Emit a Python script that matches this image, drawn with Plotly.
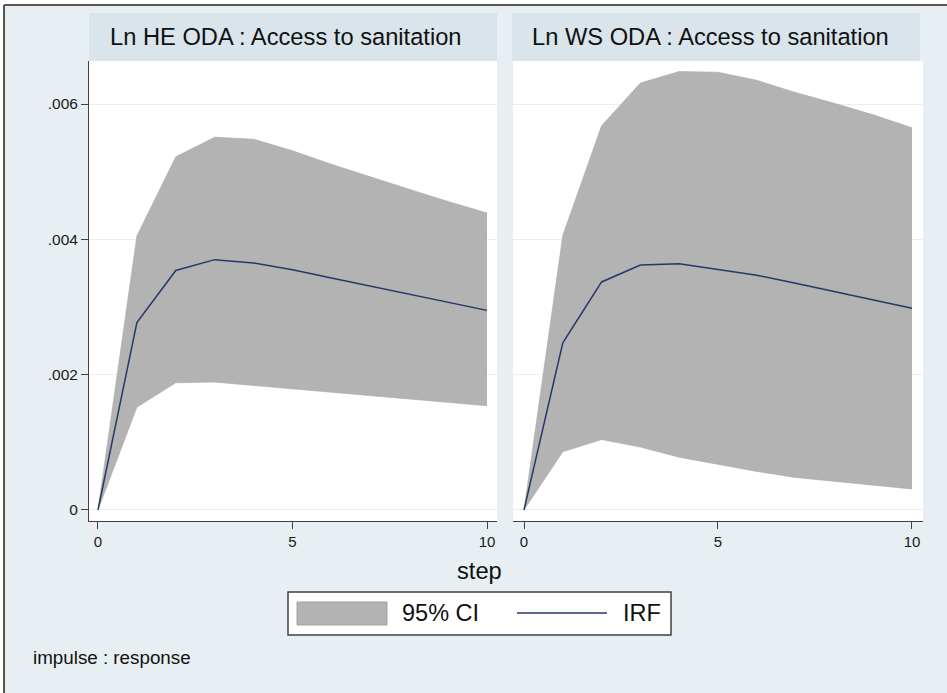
import plotly.graph_objects as go

steps = [0, 1, 2, 3, 4, 5, 6, 7, 8, 9, 10]

# Panel 1: Ln HE ODA : Access to sanitation
he_irf   = [0, 0.00277, 0.00354, 0.00370, 0.00365, 0.00355, 0.00343, 0.00331, 0.00318, 0.00306, 0.00295]
he_upper = [0, 0.00405, 0.00522, 0.00551, 0.00548, 0.00531, 0.00511, 0.00492, 0.00474, 0.00456, 0.00439]
he_lower = [0, 0.00152, 0.00188, 0.00189, 0.00184, 0.00179, 0.00174, 0.00169, 0.00164, 0.00159, 0.00154]

# Panel 2: Ln WS ODA : Access to sanitation
ws_irf   = [0, 0.00247, 0.00337, 0.00362, 0.00364, 0.00356, 0.00347, 0.00335, 0.00323, 0.00310, 0.00298]
ws_upper = [0, 0.00406, 0.00568, 0.00631, 0.00648, 0.00647, 0.00635, 0.00617, 0.00601, 0.00584, 0.00565]
ws_lower = [0, 0.00086, 0.00104, 0.00093, 0.00078, 0.00067, 0.00057, 0.00048, 0.00042, 0.00036, 0.00031]

titles = ["Ln HE ODA : Access to sanitation", "Ln WS ODA : Access to sanitation"]
ytick_vals = [0, 0.002, 0.004, 0.006]
ytick_text = ["0", ".002", ".004", ".006"]
xtick_vals = [0, 5, 10]

BG = "#e8eff2"
HEADER = "#d9e5eb"
GRID = "#e6eff2"
CI_FILL = "#b3b3b3"
IRF_COL = "#26386a"
AX = "#404040"
FONT = "Liberation Sans, Arial, sans-serif"

fig = go.Figure()

panels = [(he_lower, he_upper, he_irf, "x", "y"), (ws_lower, ws_upper, ws_irf, "x2", "y2")]
for lo, up, irf, xa, ya in panels:
    fig.add_trace(go.Scatter(x=steps, y=lo, mode="lines", line=dict(width=0.6, color="#a8a8a8"),
                             xaxis=xa, yaxis=ya, showlegend=False, hoverinfo="skip"))
    fig.add_trace(go.Scatter(x=steps, y=up, mode="lines", fill="tonexty", fillcolor=CI_FILL,
                             line=dict(width=0.6, color="#a8a8a8"),
                             xaxis=xa, yaxis=ya, showlegend=False, name="95% CI"))
    fig.add_trace(go.Scatter(x=steps, y=irf, mode="lines", line=dict(width=1.5, color=IRF_COL),
                             xaxis=xa, yaxis=ya, showlegend=False, name="IRF"))

yrange = [-0.000163, 0.006636]
common_x = dict(tickvals=xtick_vals, ticks="outside", ticklen=7, tickcolor=AX, showline=True,
                linecolor=AX, linewidth=1, showgrid=False, zeroline=False,
                tickfont=dict(size=15, color="#1a1a1a", family=FONT))
fig.update_layout(
    xaxis=dict(domain=[0, 0.4892], range=[-0.231, 10.257], anchor="y", **common_x),
    xaxis2=dict(domain=[0.5084, 1.0], range=[-0.2835, 10.284], anchor="y2", **common_x),
    yaxis=dict(domain=[0, 1], range=yrange, tickvals=ytick_vals, ticktext=ytick_text,
               ticks="outside", ticklen=7, tickcolor=AX, showline=True, linecolor=AX, linewidth=1,
               showgrid=True, gridcolor=GRID, gridwidth=1, zeroline=False, anchor="x",
               tickfont=dict(size=15.5, color="#1a1a1a", family=FONT)),
    yaxis2=dict(domain=[0, 1], range=yrange, tickvals=ytick_vals, showticklabels=False,
                ticks="", showline=False, showgrid=True, gridcolor=GRID, gridwidth=1,
                zeroline=False, anchor="x2"),
)

def px_x(p):
    return (p - 89) / 834.0

def px_y(p):
    return (521 - p) / 460.0

shapes = []
# white strips outside the outer border
shapes.append(dict(type="rect", xref="paper", yref="paper", x0=px_x(-20), x1=px_x(960),
                   y0=px_y(5), y1=px_y(-20), fillcolor="white", line=dict(width=0), layer="below"))
shapes.append(dict(type="rect", xref="paper", yref="paper", x0=px_x(-20), x1=px_x(4),
                   y0=px_y(720), y1=px_y(-20), fillcolor="white", line=dict(width=0), layer="below"))
# outer border lines (top and left)
shapes.append(dict(type="line", xref="paper", yref="paper", x0=px_x(4), x1=px_x(960),
                   y0=px_y(5), y1=px_y(5), line=dict(color="#555555", width=2)))
shapes.append(dict(type="line", xref="paper", yref="paper", x0=px_x(4), x1=px_x(4),
                   y0=px_y(5), y1=px_y(720), line=dict(color="#555555", width=2)))
# header strips
for hx0, hx1 in [(89, 497), (512, 920)]:
    shapes.append(dict(type="rect", xref="paper", yref="paper", x0=px_x(hx0), x1=px_x(hx1),
                       y0=px_y(61), y1=px_y(13), fillcolor=HEADER, line=dict(width=0), layer="below"))
# legend box
shapes.append(dict(type="rect", xref="paper", yref="paper", x0=px_x(288), x1=px_x(671),
                   y0=px_y(635), y1=px_y(592), fillcolor="white", line=dict(color=AX, width=1.5)))
shapes.append(dict(type="rect", xref="paper", yref="paper", x0=px_x(297), x1=px_x(387),
                   y0=px_y(625), y1=px_y(602), fillcolor=CI_FILL, line=dict(color="#a0a0a0", width=1)))
shapes.append(dict(type="line", xref="paper", yref="paper", x0=px_x(517), x1=px_x(607),
                   y0=px_y(613), y1=px_y(613), line=dict(color=IRF_COL, width=1.5)))

annotations = []
for t, tx in zip(titles, [108, 530]):
    annotations.append(dict(text=t, xref="paper", yref="paper", x=px_x(tx), y=px_y(37),
                            xanchor="left", yanchor="middle", showarrow=False,
                            font=dict(size=23.7, color="#111111", family=FONT)))
annotations.append(dict(text="step", xref="paper", yref="paper", x=px_x(479), y=px_y(571),
                        xanchor="center", yanchor="middle", showarrow=False,
                        font=dict(size=23.7, color="#111111", family=FONT)))
annotations.append(dict(text="95% CI", xref="paper", yref="paper", x=px_x(400), y=px_y(613),
                        xanchor="left", yanchor="middle", showarrow=False,
                        font=dict(size=23.5, color="#111111", family=FONT)))
annotations.append(dict(text="IRF", xref="paper", yref="paper", x=px_x(621), y=px_y(613),
                        xanchor="left", yanchor="middle", showarrow=False,
                        font=dict(size=23.5, color="#111111", family=FONT)))
annotations.append(dict(text="impulse : response", xref="paper", yref="paper", x=px_x(31), y=px_y(657),
                        xanchor="left", yanchor="middle", showarrow=False,
                        font=dict(size=18.8, color="#111111", family=FONT)))

fig.update_layout(
    width=947, height=693,
    margin=dict(l=89, r=24, t=61, b=172),
    paper_bgcolor=BG, plot_bgcolor="white",
    showlegend=False,
    shapes=shapes, annotations=annotations,
    font=dict(family=FONT),
)

fig.write_html("out.html")
